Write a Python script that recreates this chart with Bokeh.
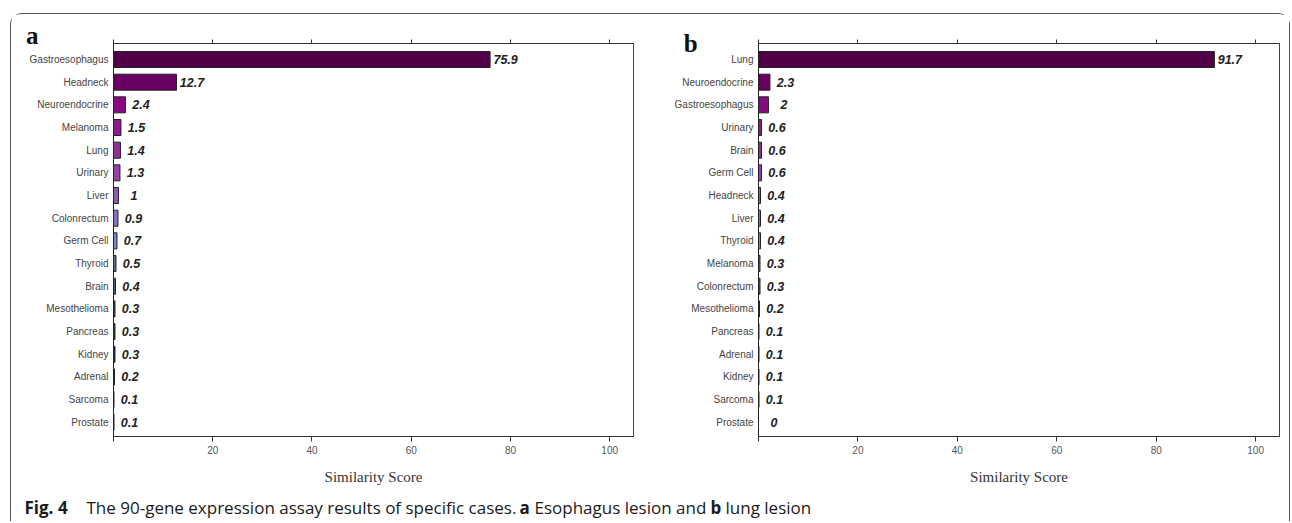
from bokeh.plotting import figure
from bokeh.models import (Range1d, FixedTicker, LinearAxis, Label, ColumnDataSource)
from bokeh.layouts import row, column
from bokeh.embed import file_html
from bokeh.resources import INLINE
from bokeh.core.properties import value

# ---------------- data ----------------
cats_a = ["Gastroesophagus", "Headneck", "Neuroendocrine", "Melanoma", "Lung", "Urinary",
          "Liver", "Colonrectum", "Germ Cell", "Thyroid", "Brain", "Mesothelioma",
          "Pancreas", "Kidney", "Adrenal", "Sarcoma", "Prostate"]
vals_a = [75.9, 12.7, 2.4, 1.5, 1.4, 1.3, 1, 0.9, 0.7, 0.5, 0.4, 0.3, 0.3, 0.3, 0.2, 0.1, 0.1]

cats_b = ["Lung", "Neuroendocrine", "Gastroesophagus", "Urinary", "Brain", "Germ Cell",
          "Headneck", "Liver", "Thyroid", "Melanoma", "Colonrectum", "Mesothelioma",
          "Pancreas", "Adrenal", "Kidney", "Sarcoma", "Prostate"]
vals_b = [91.7, 2.3, 2, 0.6, 0.6, 0.6, 0.4, 0.4, 0.4, 0.3, 0.3, 0.2, 0.1, 0.1, 0.1, 0.1, 0]

x_ticks = [20, 40, 60, 80, 100]
x_edge_ticks = [0, 20, 40, 60, 80, 100]
x_axis_title = "Similarity Score"

caption_parts = [("Fig. 4", "bold"),
                 ("The 90-gene expression assay results of specific cases.", "normal"),
                 ("a", "bold"), ("Esophagus lesion and", "normal"),
                 ("b", "bold"), ("lung lesion", "normal")]

rank_colors = ["#520047", "#6b0063", "#870a82", "#8c1a8e", "#923099", "#9444a6",
               "#905cb4", "#8672c4", "#7a86d0", "#5c7099", "#4e6085", "#3a4a66",
               "#303c55", "#2a3448", "#252c3c", "#202530", "#1c1f28"]

SANS = "Liberation Sans"
SERIF = "Liberation Serif"
H = 476


def panel(cats, vals, letter, border_left, border_right, frame_w, letter_standoff, raise_letter):
    n = len(cats)
    idx = list(range(n))
    w = border_left + frame_w + border_right
    p = figure(width=w, height=H, output_backend="svg", toolbar_location=None,
               x_range=Range1d(0, 104.8), y_range=Range1d(n - 1 + 0.63, -0.706),
               min_border_left=border_left, min_border_right=border_right,
               min_border_top=29, min_border_bottom=54,
               x_axis_location="below")
    p.xgrid.visible = False
    p.ygrid.visible = False
    p.outline_line_color = "#444"
    p.outline_line_width = 1

    src = ColumnDataSource(dict(y=idx, v=vals, c=rank_colors[:n],
                                t=[f"{v:g}" for v in vals]))
    p.hbar(y="y", left=0, right="v", height=0.706, fill_color="c",
           line_color="#222", line_width=1, source=src)
    p.text(x="v", y="y", text="t", source=src, x_offset=15.5,
           text_align="center", text_baseline="middle",
           text_font=value(SANS), text_font_style="bold italic",
           text_font_size="12.5px", text_color="#222")

    xa = p.xaxis[0]
    xa.ticker = FixedTicker(ticks=x_ticks, minor_ticks=[0])
    xa.minor_tick_in = 0
    xa.minor_tick_out = 5
    xa.minor_tick_line_color = "#333"
    xa.major_tick_in = 0
    xa.major_tick_out = 5
    xa.major_label_standoff = 4
    xa.major_label_text_font = SANS
    xa.major_label_text_font_size = "10px"
    xa.major_label_text_color = "#555"
    xa.axis_line_color = "#333"
    xa.major_tick_line_color = "#333"
    xa.axis_label = x_axis_title
    xa.axis_label_text_font = SERIF
    xa.axis_label_text_font_style = "normal"
    xa.axis_label_text_font_size = "15px"
    xa.axis_label_text_color = "#333"
    xa.axis_label_standoff = 12

    ta = LinearAxis(ticker=FixedTicker(ticks=[], minor_ticks=x_edge_ticks))
    ta.minor_tick_in = 0
    ta.minor_tick_out = 4
    ta.minor_tick_line_color = "#333"
    ta.axis_line_color = "#333"
    p.add_layout(ta, "above")

    ya = p.yaxis[0]
    ya.ticker = FixedTicker(ticks=idx)
    ya.major_label_overrides = {i: c for i, c in zip(idx, cats)}
    ya.minor_tick_line_color = None
    ya.major_tick_in = 0
    ya.major_tick_out = 0
    ya.major_label_standoff = 5
    ya.major_label_text_font = SANS
    ya.major_label_text_font_size = "10px"
    ya.major_label_text_color = "#444"
    ya.axis_line_color = "#222"
    # panel letter as a horizontal axis label at the top end of the left axis
    ya.axis_label = letter + ("\n\u00a0" if raise_letter else "")
    ya.axis_label_orientation = "horizontal"
    ya.axis_label_align = "start"
    ya.axis_label_standoff = letter_standoff
    ya.axis_label_text_font = SERIF
    ya.axis_label_text_font_style = "bold"
    ya.axis_label_text_font_size = "25px"
    ya.axis_label_text_color = "#111"
    ya.axis_label_text_line_height = 0.6
    return p


pa = panel(cats_a, vals_a, "a", 102, 37, 520, -12, True)
pb = panel(cats_b, vals_b, "b", 88, 10, 521, -26, False)

CW, CH = pa.width + pb.width, 31
cap = figure(width=CW, height=CH, output_backend="svg", toolbar_location=None,
             x_range=Range1d(0, CW), y_range=Range1d(0, CH),
             x_axis_type=None, y_axis_type=None, min_border=0)
cap.outline_line_color = None
cap.xgrid.visible = False
cap.ygrid.visible = False
cap_x = [13, 75, 508, 523, 699, 714]
for (txt, style), xx in zip(caption_parts, cap_x):
    cap.add_layout(Label(x=xx, y=17, x_units="canvas", y_units="canvas", text=txt,
                         text_font="Open Sans", text_font_style=style,
                         text_font_size="17px", text_color="#1a1a1a",
                         text_baseline="alphabetic", text_align="left"))

layout = column(row(pa, pb), cap,
                styles={"border-top": "1px solid #555", "border-left": "1px solid #555",
                        "border-right": "1px solid #555",
                        "border-radius": "12px 12px 0 0",
                        "margin-top": "13px", "margin-left": "10px"})

open("out.html", "w").write(file_html(layout, INLINE))
